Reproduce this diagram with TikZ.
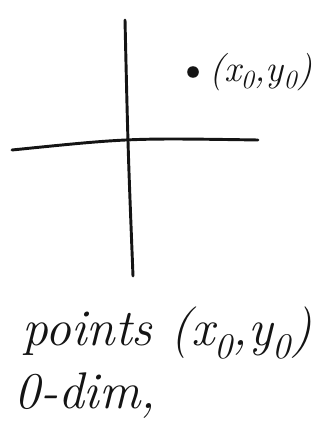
\documentclass[tikz,border=0pt]{standalone}
\usepackage{xcolor}
\usetikzlibrary{positioning, calc}
\definecolor{inkblack}{RGB}{20,20,20}
\newcommand{\ptxy}{(x\textsubscript{0},y\textsubscript{0})}

\begin{document}
\begin{tikzpicture}[x=0.03cm, y=-0.03cm,
        every node/.style={text=inkblack, font=\fontsize{44}{50}\selectfont\itshape},
        axisline/.style={draw=inkblack, line width=2.5pt, line cap=round}]
            \useasboundingbox (0,0) rectangle (331,424);
            % axes
            \coordinate (ytop) at (125,20);
            \coordinate (ybot) at (133,276);
            \coordinate (xleft) at (12,150);
            \coordinate (xright) at (258,140);
            \draw[axisline] (ytop) .. controls (128,150) .. (ybot);
            \draw[axisline] (xleft) .. controls (130,138) .. (xright);
            % the point
            \node[circle, fill=inkblack, inner sep=3.5pt] (pt) at (193,72) {};
            \node[right=5pt of pt, font=\fontsize{32}{36}\selectfont\itshape] (ptlabel) {\ptxy};
            % text below
            \node[anchor=base west, inner sep=0pt] (points) at (22,345) {points \ptxy};
            \node[anchor=base west, inner sep=0pt] (dim) at (14,408) {0-dim,};
        \end{tikzpicture}
\end{document}
